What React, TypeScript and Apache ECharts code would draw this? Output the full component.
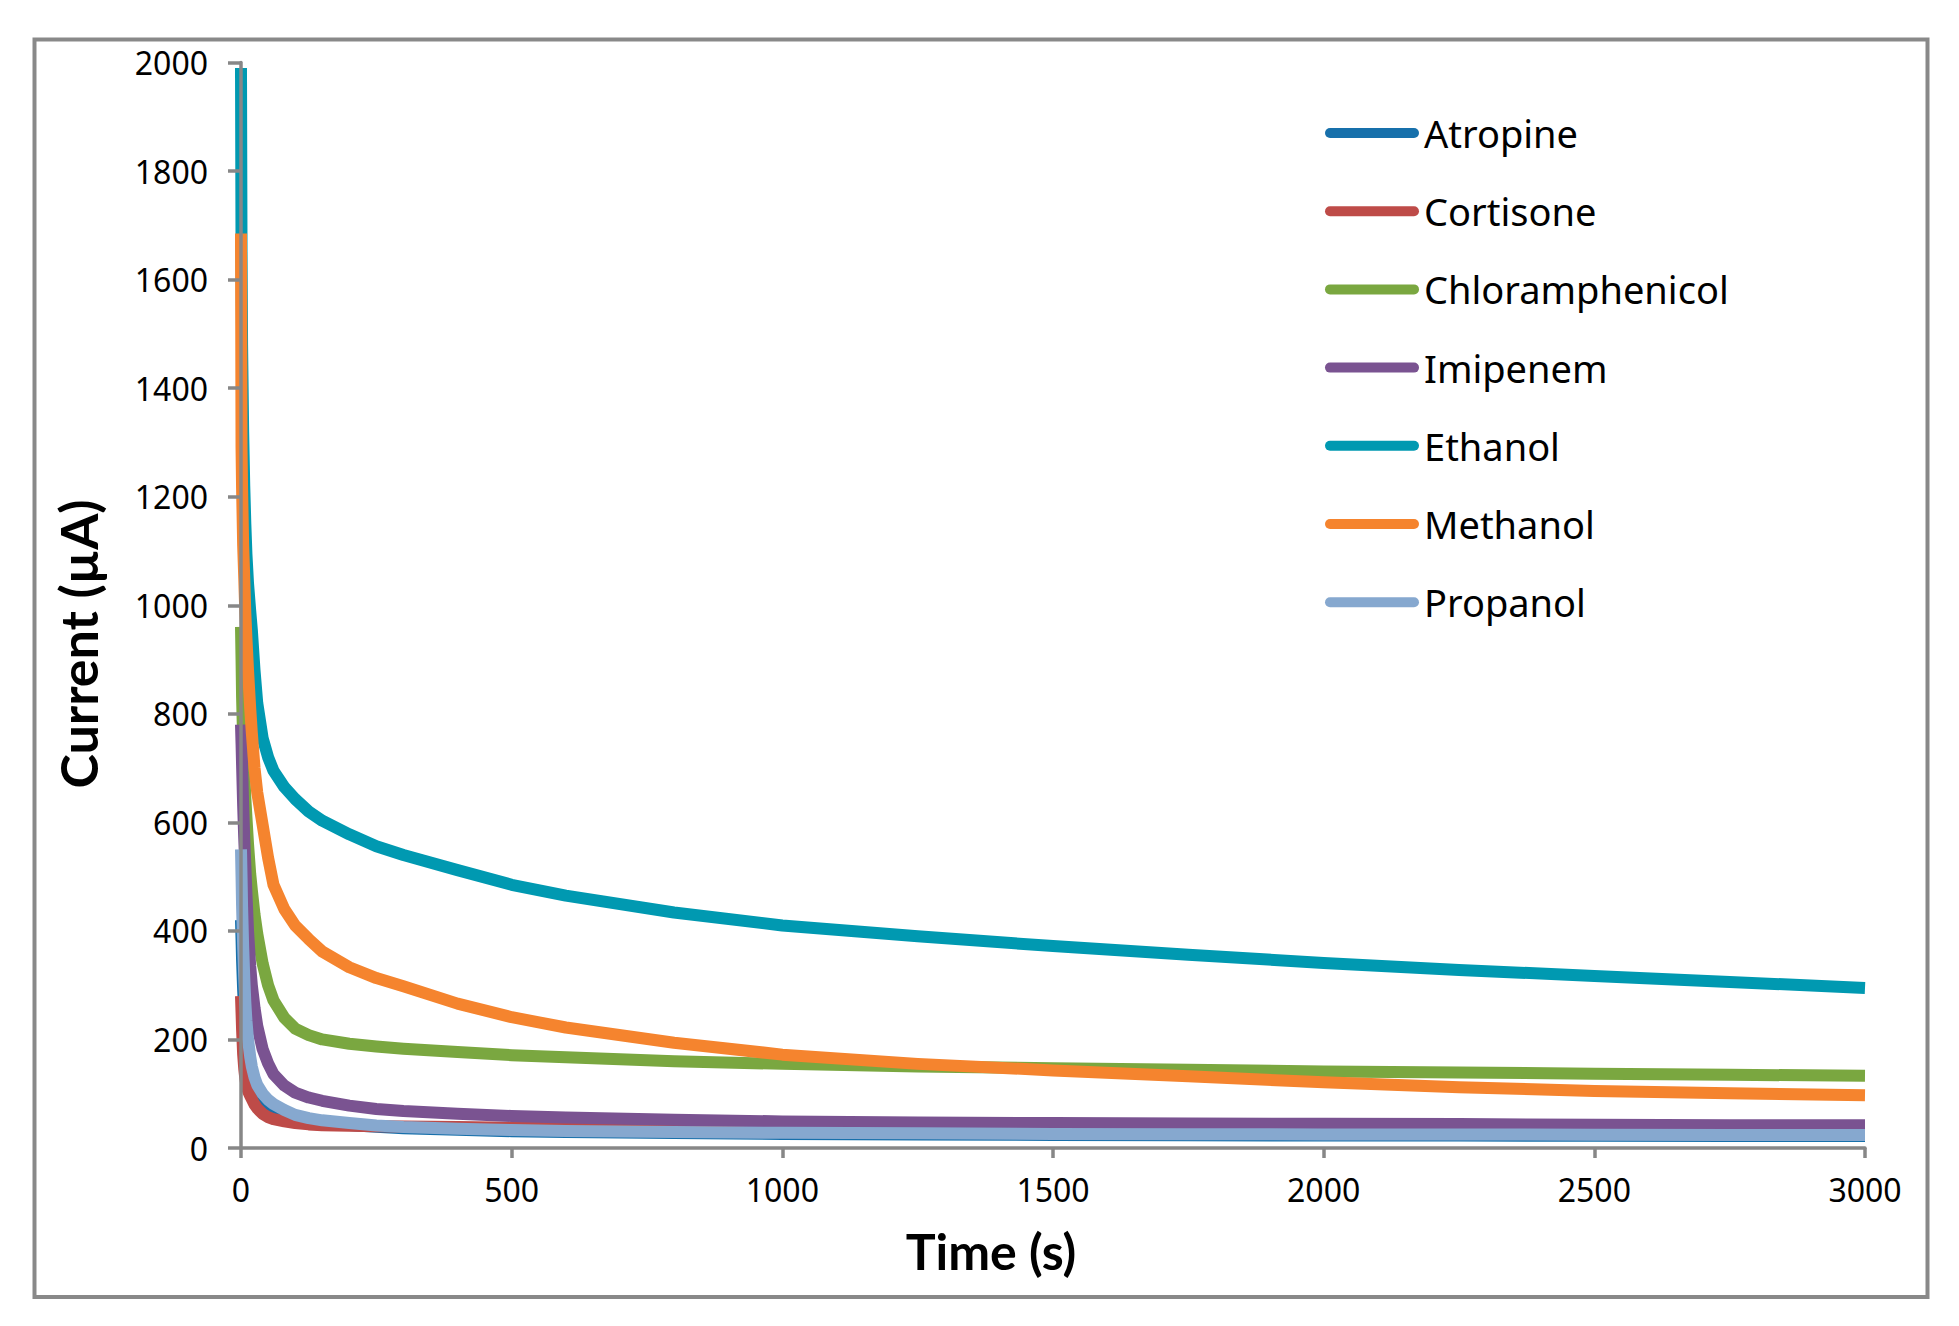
import React, { useEffect, useRef } from "react";
import * as echarts from "echarts";

const times = [0, 1, 2, 4, 6, 8, 10, 13, 17, 20, 25, 30, 40, 50, 60, 80, 100, 125, 150, 200, 250, 300, 400, 500, 600, 800, 1000, 1250, 1500, 1750, 2000, 2250, 2500, 2750, 3000];

const seriesNames = ["Atropine", "Cortisone", "Chloramphenicol", "Imipenem", "Ethanol", "Methanol", "Propanol"];

const atropine = [420, 385, 345, 290, 250, 218, 192, 168, 146, 133, 116, 104, 89, 80, 73, 63, 56, 51, 47, 42.5, 39, 36.5, 33.5, 31, 29.5, 27.5, 26, 25, 24, 23.5, 23, 23, 22.5, 22, 22];
const cortisone = [280, 250, 218, 172, 146, 128, 116, 105, 96, 90, 80, 73, 63, 57, 53, 49, 46, 43.5, 42, 41, 40, 39.5, 38.5, 37.5, 36.5, 35, 33, 31, 30, 29, 28.5, 28, 27, 26.5, 26];
const chloramphenicol = [960, 900, 830, 750, 690, 645, 610, 560, 505, 475, 430, 395, 340, 300, 272, 240, 220, 208, 200, 192, 187, 183, 177, 171, 167, 160, 155, 150, 147, 144, 141, 139, 137, 135, 133];
const imipenem = [780, 745, 705, 630, 570, 520, 470, 400, 335, 300, 258, 225, 182, 156, 136, 115, 102, 93, 87, 78, 72, 68, 63, 59, 56, 52, 49, 47, 46, 45, 44.5, 44, 43, 42, 42];
const ethanol = [1990, 1650, 1480, 1320, 1220, 1150, 1095, 1040, 990, 955, 880, 820, 755, 720, 695, 665, 643, 620, 603, 578, 556, 540, 512, 485, 465, 434, 410, 390, 372, 356, 341, 328, 317, 306, 295];
const methanol = [1685, 1290, 1215, 1110, 1050, 985, 940, 880, 810, 765, 700, 655, 595, 535, 485, 440, 410, 385, 362, 333, 313, 298, 266, 241, 222, 194, 172, 155, 143, 132, 121, 112, 105, 101, 97];
const propanol = [550, 500, 445, 370, 315, 268, 235, 200, 168, 150, 130, 116, 100, 89, 81, 70, 61, 55, 51, 46, 41.5, 38.5, 35.5, 33, 31.5, 29.5, 28, 27, 26, 25.5, 25, 25, 24.5, 24, 24];

const seriesValues = [atropine, cortisone, chloramphenicol, imipenem, ethanol, methanol, propanol];
const seriesColors = ["#1770AB", "#BE4B48", "#7AA740", "#7A5391", "#0099B1", "#F5842E", "#86A8CF"];

const xMin = 0;
const xMax = 3000;
const xInterval = 500;
const yMin = 0;
const yMax = 2000;
const yInterval = 200;

const xTitle = "Time (s)";
const yTitle = "Current (µA)";

export default function App() {
  const ref = useRef<HTMLDivElement>(null);

  useEffect(() => {
    if (!ref.current) return;
    const chart = echarts.init(ref.current, null, { renderer: "svg" });
    const axisGray = "#878787";
    const option: any = {
      animation: false,
      backgroundColor: "#ffffff",
      grid: { left: 241, right: 94, top: 62.5, bottom: 178, containLabel: false },
      xAxis: {
        type: "value",
        min: xMin,
        max: xMax,
        interval: xInterval,
        z: 5,
        axisLine: { show: true, onZero: false, lineStyle: { color: axisGray, width: 3.5 } },
        axisTick: { show: true, length: 10, lineStyle: { color: axisGray, width: 3.5 } },
        splitLine: { show: false },
        axisLabel: {
          margin: 25,
          color: "#000",
          fontFamily: "Noto Sans",
          fontSize: 32,
          formatter: (v: number) => String(v),
        },
      },
      yAxis: {
        type: "value",
        min: yMin,
        max: yMax,
        interval: yInterval,
        z: 5,
        axisLine: { show: true, lineStyle: { color: axisGray, width: 3.5 } },
        axisTick: { show: true, length: 13, lineStyle: { color: axisGray, width: 3.5 } },
        splitLine: { show: false },
        axisLabel: {
          margin: 33,
          color: "#000",
          fontFamily: "Noto Sans",
          fontSize: 32,
          formatter: (v: number) => String(v),
        },
      },
      legend: {
        orient: "vertical",
        left: 1320,
        top: 106,
        itemWidth: 94,
        itemHeight: 11,
        itemGap: 34.2,
        selectedMode: false,
        icon: "path://M5,0H89A5,5,0,0,1,89,10H5A5,5,0,0,1,5,0Z",
        textStyle: { fontFamily: "Noto Sans", fontSize: 38, color: "#000", lineHeight: 44 },
        data: seriesNames,
      },
      series: seriesNames.map((name, i) => ({
        name,
        type: "line",
        showSymbol: false,
        symbol: "none",
        smooth: false,
        color: seriesColors[i],
        lineStyle: { width: 12, color: seriesColors[i], cap: "butt", join: "round" },
        data: times.map((t, k) => [t, seriesValues[i][k]]),
      })),
      graphic: [
        {
          type: "rect",
          silent: true,
          z: 3,
          shape: { x: 220, y: 44, width: 19.2, height: 1102 },
          style: { fill: "#ffffff" },
        },
        {
          type: "rect",
          silent: true,
          z: 1,
          shape: { x: 34.5, y: 39.5, width: 1893, height: 1257.5 },
          style: { fill: "none", stroke: "#898989", lineWidth: 4 },
        },
        {
          type: "text",
          silent: true,
          z: 6,
          x: 991,
          y: 1251,
          style: {
            text: xTitle,
            fontFamily: "Lato",
            fontWeight: "bold",
            fontSize: 50,
            fill: "#000",
            align: "center",
            verticalAlign: "middle",
            textAlign: "center",
            textVerticalAlign: "middle",
          },
        },
        {
          type: "text",
          silent: true,
          z: 6,
          x: 78,
          y: 644,
          rotation: Math.PI / 2,
          style: {
            text: yTitle,
            fontFamily: "Lato",
            fontWeight: "bold",
            fontSize: 52,
            fill: "#000",
            align: "center",
            verticalAlign: "middle",
            textAlign: "center",
            textVerticalAlign: "middle",
          },
        },
      ],
    };
    chart.setOption(option);
    return () => chart.dispose();
  }, []);

  return (
    <div
      ref={ref}
      style={{ position: "fixed", left: 0, top: 0, width: 1959, height: 1326, background: "#fff" }}
    />
  );
}
